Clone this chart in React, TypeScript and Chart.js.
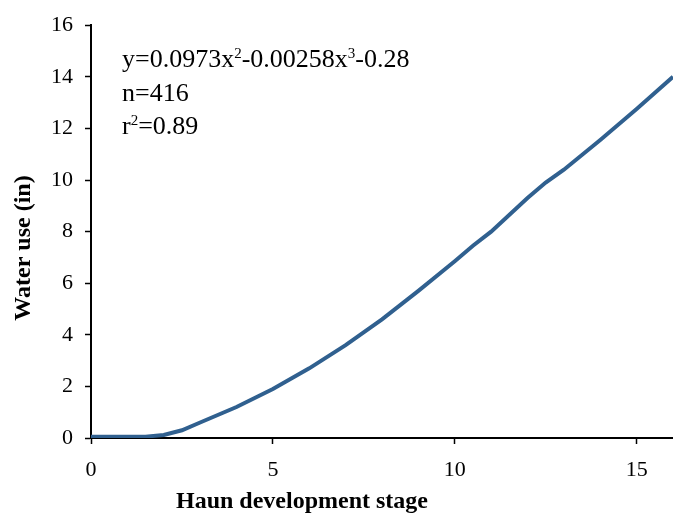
import React, { useEffect, useRef } from "react";
import { Chart, registerables } from "chart.js";

Chart.register(...registerables);

const stages = [0, 0.5, 1, 1.5, 2, 2.5, 3, 4, 5, 6, 7, 8, 9, 10, 10.5, 11, 12, 12.5, 13, 14, 15, 16];
const waterUse = [0.05, 0.05, 0.05, 0.05, 0.12, 0.3, 0.6, 1.2, 1.9, 2.7, 3.6, 4.6, 5.7, 6.85, 7.45, 8.0, 9.3, 9.9, 10.4, 11.55, 12.75, 14.0];
const yTicks = [0, 2, 4, 6, 8, 10, 12, 14, 16];
const xTicks = [0, 5, 10, 15];
const xTitle = "Haun development stage";
const yTitle = "Water use (in)";

const FONT = "'Liberation Serif', 'Times New Roman', serif";

const textPlugin = {
  id: "textPlugin",
  afterDraw(chart: any) {
    const ctx = chart.ctx;
    ctx.save();
    ctx.fillStyle = "#000";
    ctx.textBaseline = "alphabetic";
    ctx.textAlign = "left";
    const big = `26px ${FONT}`;
    const small = `15px ${FONT}`;
    const parts: [string, boolean][] = [
      ["y=0.0973x", false],
      ["2", true],
      ["-0.00258x", false],
      ["3", true],
      ["-0.28", false],
    ];
    let x = 122;
    const y1 = 67;
    for (const [t, sup] of parts) {
      ctx.font = sup ? small : big;
      ctx.fillText(t, x, sup ? y1 - 9 : y1);
      x += ctx.measureText(t).width;
    }
    ctx.font = big;
    ctx.fillText("n=416", 122, 101);
    x = 122;
    const y3 = 134;
    ctx.fillText("r", x, y3);
    x += ctx.measureText("r").width;
    ctx.font = small;
    ctx.fillText("2", x, y3 - 9);
    x += ctx.measureText("2").width;
    ctx.font = big;
    ctx.fillText("=0.89", x, y3);

    ctx.font = `bold 24px ${FONT}`;
    ctx.textAlign = "center";
    ctx.fillText(xTitle, 302, 508);

    ctx.translate(24, 248);
    ctx.rotate(-Math.PI / 2);
    ctx.textBaseline = "middle";
    ctx.fillText(yTitle, 0, 0);
    ctx.restore();
  },
};

export default function App() {
  const ref = useRef<HTMLCanvasElement>(null);
  useEffect(() => {
    document.body.style.margin = "0";
    const chart = new Chart(ref.current!, {
      type: "line",
      data: {
        datasets: [
          {
            data: stages.map((s, i) => ({ x: s, y: waterUse[i] })),
            borderColor: "#30608F",
            borderWidth: 4,
            pointRadius: 0,
            tension: 0,
            fill: false,
          },
        ],
      },
      options: {
        animation: false,
        responsive: false,
        maintainAspectRatio: false,
        layout: { padding: { top: 21, right: 0, left: 0, bottom: 0 } },
        plugins: { legend: { display: false }, tooltip: { enabled: false } },
        scales: {
          x: {
            type: "linear",
            min: 0,
            max: 16,
            afterFit: (s: any) => {
              s.height = 75;
            },
            afterBuildTicks: (s: any) => {
              s.ticks = xTicks.map((v) => ({ value: v }));
            },
            ticks: { color: "#000", font: { family: FONT, size: 22 }, padding: 13, maxRotation: 0 },
            grid: { drawOnChartArea: false, color: "#000", tickLength: 6, tickWidth: 1.5 },
            border: { color: "#000", width: 2 },
            title: { display: false },
          },
          y: {
            min: 0,
            max: 16,
            afterFit: (s: any) => {
              s.width = 91;
            },
            afterBuildTicks: (s: any) => {
              s.ticks = yTicks.map((v) => ({ value: v }));
            },
            ticks: { color: "#000", font: { family: FONT, size: 22 }, padding: 12 },
            grid: { drawOnChartArea: false, color: "#000", tickLength: 6, tickWidth: 1.5 },
            border: { color: "#000", width: 2 },
            title: { display: false },
          },
        },
      },
      plugins: [textPlugin],
    });
    return () => chart.destroy();
  }, []);
  return <canvas ref={ref} width={673} height={513} style={{ display: "block" }} />;
}
